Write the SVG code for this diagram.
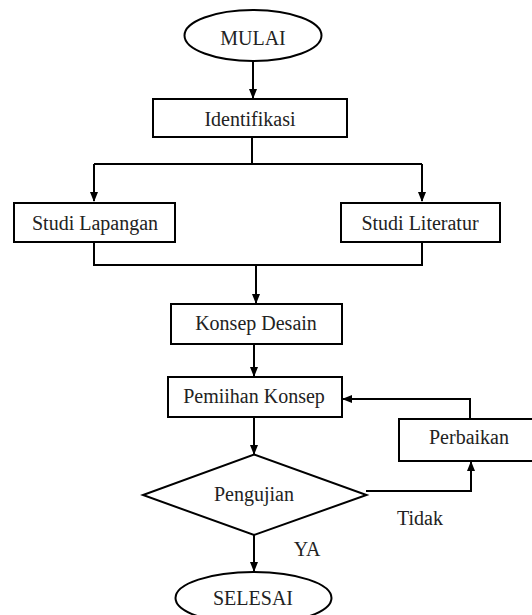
<svg xmlns="http://www.w3.org/2000/svg" width="532" height="615" viewBox="0 0 532 615">
<defs>
<marker id="ah" markerWidth="10" markerHeight="10" refX="9" refY="5" orient="auto" markerUnits="userSpaceOnUse">
<path d="M0,1 L10,5 L0,9 Z" fill="#000"/>
</marker>
<style>
.s{fill:#fff;stroke:#000;stroke-width:2}
.c{fill:none;stroke:#000;stroke-width:2}
.a{marker-end:url(#ah)}
text{font-family:"Liberation Serif","Times New Roman",serif;font-size:20px;fill:#222;text-anchor:middle}
</style>
</defs>
<rect width="532" height="615" fill="#fff"/>
<g id="connectors">
<path class="c a" d="M253,61 V98"/>
<path class="c" d="M252,137 V164 M94,164 H422"/>
<path class="c a" d="M94,164 V201"/>
<path class="c a" d="M422,164 V201"/>
<path class="c" d="M94,242 V265 H422 V242"/>
<path class="c a" d="M256,265 V303"/>
<path class="c a" d="M254,344 V376"/>
<path class="c a" d="M254,417 V454"/>
<path class="c a" d="M470,419 V399 H343"/>
<path class="c a" d="M366,491 H471 V462"/>
<path class="c a" d="M254,535 V571"/>
</g>
<g id="mulai"><ellipse class="s" cx="253" cy="35.5" rx="68.5" ry="25.5"/><text x="253" y="45">MULAI</text></g>
<g id="identifikasi"><rect class="s" x="153" y="99" width="194" height="38"/><text x="250" y="126">Identifikasi</text></g>
<g id="studi-lapangan"><rect class="s" x="14" y="203" width="161" height="39"/><text x="95" y="230">Studi Lapangan</text></g>
<g id="studi-literatur"><rect class="s" x="341" y="203" width="159" height="39"/><text x="420" y="230">Studi Literatur</text></g>
<g id="konsep-desain"><rect class="s" x="171" y="304" width="171" height="40"/><text x="256" y="330">Konsep Desain</text></g>
<g id="pemiihan-konsep"><rect class="s" x="168" y="377" width="174" height="40"/><text x="254" y="403">Pemiihan Konsep</text></g>
<g id="perbaikan"><rect class="s" x="399" y="419" width="140" height="42"/><text x="469" y="444">Perbaikan</text></g>
<g id="pengujian"><polygon class="s" points="254,454.5 366.5,495 254,535 143,495"/><text x="254" y="501">Pengujian</text></g>
<g id="selesai"><ellipse class="s" cx="253.5" cy="598" rx="78" ry="26"/><text x="253" y="605">SELESAI</text></g>
<g id="labels"><text x="420" y="525">Tidak</text><text x="307" y="556">YA</text></g>
</svg>
